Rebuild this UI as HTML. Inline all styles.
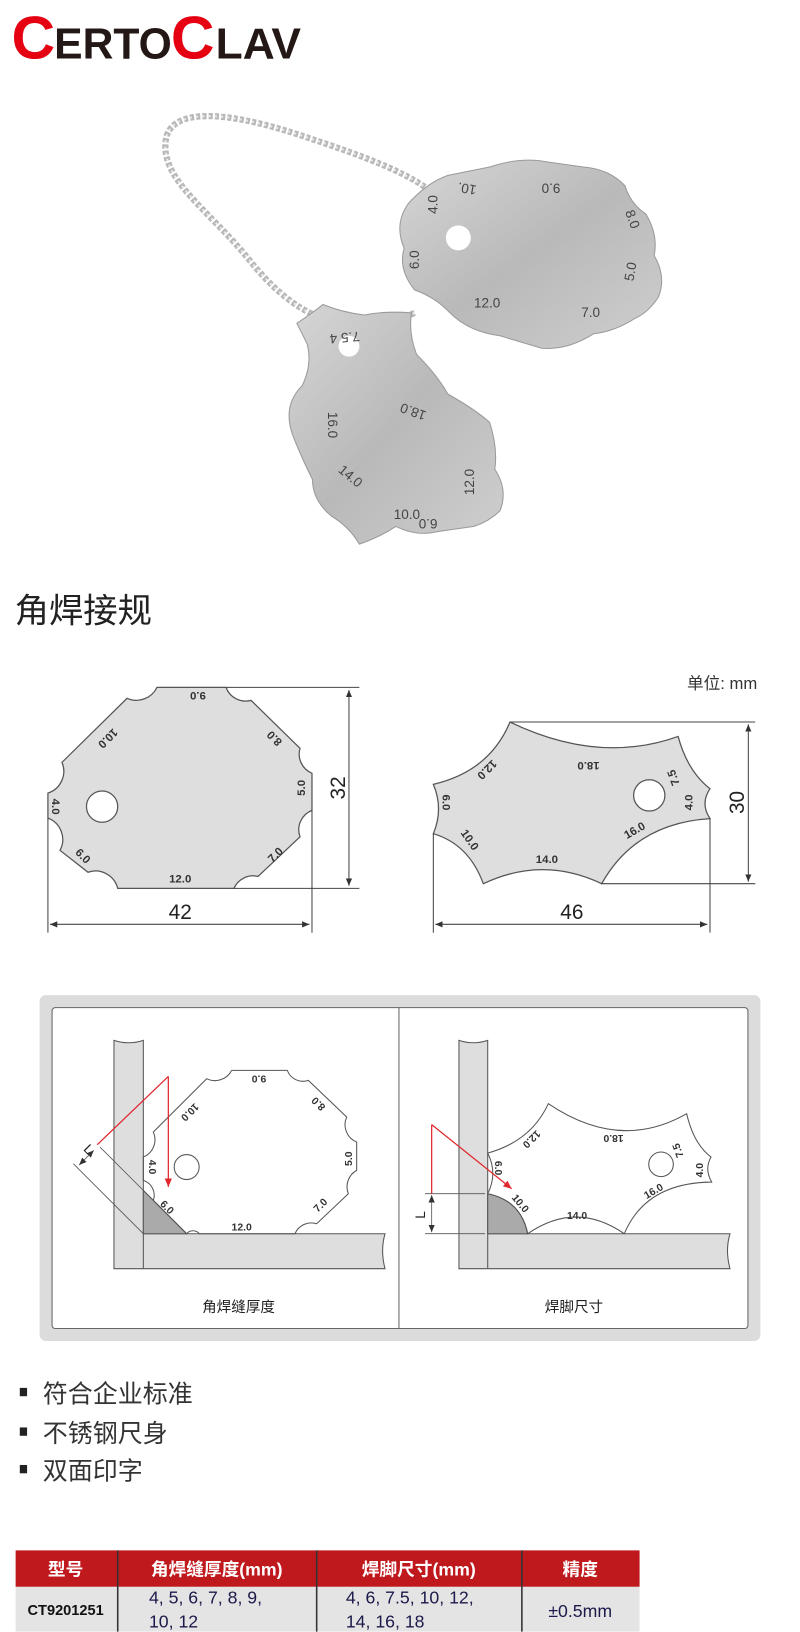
<!DOCTYPE html>
<html><head><meta charset="utf-8"><style>
html,body{margin:0;padding:0;background:#fff;}
svg{display:block;}
text{font-family:"Liberation Sans","Noto Sans CJK SC",sans-serif;}
</style></head><body>
<svg width="800" height="1632" viewBox="0 0 768 1566" xmlns="http://www.w3.org/2000/svg">
<defs>
<linearGradient id="met" x1="0" y1="0" x2="1" y2="1">
<stop offset="0" stop-color="#d6d6d6"/><stop offset="0.5" stop-color="#b9b9b9"/><stop offset="1" stop-color="#cfcfcf"/>
</linearGradient>
<marker id="ar" markerWidth="8" markerHeight="8" refX="7" refY="4" orient="auto" markerUnits="userSpaceOnUse"><path d="M0,1 L7,4 L0,7 Z" fill="#333"/></marker>
<marker id="arS" markerWidth="8" markerHeight="8" refX="1" refY="4" orient="auto" markerUnits="userSpaceOnUse"><path d="M8,1 L1,4 L8,7 Z" fill="#333"/></marker>
<marker id="arR" markerWidth="9" markerHeight="9" refX="8" refY="4.5" orient="auto" markerUnits="userSpaceOnUse"><path d="M0,1 L8,4.5 L0,8 Z" fill="#e0282e"/></marker>
</defs>

<!-- Logo -->
<text x="11" y="56" font-size="58" font-weight="bold" fill="#e50012">C</text>
<text x="52" y="56" font-size="42" font-weight="bold" fill="#231815" textLength="113" lengthAdjust="spacingAndGlyphs">ERTO</text>
<text x="164" y="56" font-size="58" font-weight="bold" fill="#e50012">C</text>
<text x="207" y="56" font-size="42" font-weight="bold" fill="#231815" textLength="82" lengthAdjust="spacingAndGlyphs">LAV</text>

<!-- Photo approximation -->
<path d="M398,300 C330,330 280,300 240,250 C200,200 150,170 160,130 C170,100 230,110 290,130 C350,150 410,170 430,200 L440,228" fill="none" stroke="#b8b8b8" stroke-width="6" stroke-dasharray="4 2"/>
<path d="M398,300 C330,330 280,300 240,250 C200,200 150,170 160,130 C170,100 230,110 290,130 C350,150 410,170 430,200 L440,228" fill="none" stroke="#e8e8e8" stroke-width="2" stroke-dasharray="2 4"/>
<path d="M392,195 Q410,175 430,168 L470,160 Q500,150 525,155 L560,160 Q585,162 600,178 Q605,195 620,205 Q632,225 628,245 Q640,265 632,285 Q622,300 610,305 Q590,318 570,320 Q545,336 520,334 L480,322 Q450,318 432,300 Q418,285 398,278 Q382,258 388,238 Q378,215 392,195 Z" fill="url(#met)" stroke="#9a9a9a"/>
<circle cx="440" cy="228" r="12" fill="#fff"/>
<path d="M285,310 Q300,300 310,292 Q330,300 350,302 Q370,298 395,300 Q392,320 400,340 Q420,360 430,378 Q455,392 470,405 Q478,430 475,450 Q488,470 480,490 Q470,500 455,505 L420,510 Q400,515 380,505 Q365,515 345,522 Q335,505 318,495 Q300,480 300,460 Q290,440 282,420 Q270,390 290,370 Q300,350 295,330 Z" fill="url(#met)" stroke="#9a9a9a"/>
<circle cx="335" cy="332" r="10" fill="#fff"/>
<g font-size="13" fill="#444">
<text transform="translate(538,176) rotate(180)">9.0</text>
<text transform="translate(600,203) rotate(70)">8.0</text>
<text transform="translate(608,270) rotate(-80)">5.0</text>
<text x="558" y="304">7.0</text>
<text x="455" y="295">12.0</text>
<text transform="translate(402,258) rotate(-90)">6.0</text>
<text transform="translate(420,205) rotate(-90)">4.0</text>
<text transform="translate(458,178) rotate(-170)">10.</text>
<text transform="translate(345,318) rotate(175)">7.5 4</text>
<text transform="translate(410,395) rotate(-160)">18.0</text>
<text transform="translate(315,395) rotate(90)">16.0</text>
<text transform="translate(324,452) rotate(40)">14.0</text>
<text x="378" y="498">10.0</text>
<text transform="translate(420,498) rotate(180)">6.0</text>
<text transform="translate(455,475) rotate(-90)">12.0</text>
</g>

<!-- Title -->
<text x="14" y="597" font-size="33" fill="#222">角焊接规</text>
<text x="727" y="661" font-size="16" fill="#333" text-anchor="end">单位: mm</text>

<!-- Left diagram -->
<g stroke="#555" stroke-width="1.2">
<path d="M150.7,659.5 L217,659.5 A20,20 0 0 0 241,672 L288,718 A20,20 0 0 0 299.5,742 L299.5,777.6 A20,20 0 0 0 288,803 L247.7,841 A20,20 0 0 0 224.6,852.5 L113,852.5 A22,22 0 0 0 84.5,837 L57.6,816 A22,22 0 0 0 46,785 L46,761 A22,22 0 0 0 59.5,731.5 L122,670 A22,22 0 0 0 150.7,659.5 Z" fill="#dedede"/>
<circle cx="98" cy="774" r="15" fill="#fff"/>
</g>
<g font-size="11" font-weight="bold" fill="#333" text-anchor="middle">
<text transform="translate(190,664) rotate(180)">9.0</text>
<text transform="translate(101,706) rotate(135)">10.0</text>
<text transform="translate(266,706) rotate(225)">8.0</text>
<text transform="translate(293,756) rotate(-90)">5.0</text>
<text transform="translate(50,774) rotate(90)">4.0</text>
<text transform="translate(77,824) rotate(45)">6.0</text>
<text transform="translate(267,823) rotate(-45)">7.0</text>
<text x="173" y="847">12.0</text>
</g>
<g stroke="#444" stroke-width="1" fill="none">
<line x1="217" y1="659.5" x2="345" y2="659.5"/>
<line x1="224" y1="852.5" x2="345" y2="852.5"/>
<line x1="335" y1="662" x2="335" y2="850" marker-start="url(#arS)" marker-end="url(#ar)"/>
<line x1="46" y1="785" x2="46" y2="895"/>
<line x1="299.5" y1="777" x2="299.5" y2="895"/>
<line x1="48" y1="887" x2="297" y2="887" marker-start="url(#arS)" marker-end="url(#ar)"/>
</g>
<text transform="translate(331,756) rotate(-90)" font-size="20" fill="#222" text-anchor="middle">32</text>
<text x="173" y="882" font-size="20" fill="#222" text-anchor="middle">42</text>

<!-- Right diagram -->
<path d="M489.6,692.8 Q575,733.9 651,706.6 Q660,740 681.6,756.8 Q672,771 681.6,785.5 Q610,790 577.6,848 Q521,821 464,848 Q450,810 416,800 Q426,776 416,752.6 Q470,740 489.6,692.8 Z" fill="#dedede" stroke="#555" stroke-width="1.2"/>
<circle cx="623.3" cy="763.2" r="15" fill="#fff" stroke="#555" stroke-width="1.2"/>
<g font-size="11" font-weight="bold" fill="#333" text-anchor="middle">
<text transform="translate(465,736) rotate(135)">12.0</text>
<text transform="translate(565,731) rotate(180)">18.0</text>
<text transform="translate(650,745) rotate(250)">7.5</text>
<text transform="translate(665,770) rotate(-90)">4.0</text>
<text transform="translate(425,770) rotate(90)">6.0</text>
<text transform="translate(448,808) rotate(55)">10.0</text>
<text x="525" y="828">14.0</text>
<text transform="translate(611,800) rotate(-30)">16.0</text>
</g>
<g stroke="#444" stroke-width="1" fill="none">
<line x1="489.6" y1="692.8" x2="725" y2="692.8"/>
<line x1="577" y1="848" x2="725" y2="848"/>
<line x1="718.4" y1="695" x2="718.4" y2="846" marker-start="url(#arS)" marker-end="url(#ar)"/>
<line x1="416" y1="800" x2="416" y2="895"/>
<line x1="681.6" y1="785.5" x2="681.6" y2="895"/>
<line x1="418" y1="887" x2="679" y2="887" marker-start="url(#arS)" marker-end="url(#ar)"/>
</g>
<text transform="translate(714,770) rotate(-90)" font-size="20" fill="#222" text-anchor="middle">30</text>
<text x="549" y="882" font-size="20" fill="#222" text-anchor="middle">46</text>

<!-- Usage box -->
<rect x="38" y="955" width="692" height="332" rx="6" fill="#dcdcdc"/>
<rect x="50" y="967" width="668" height="308" rx="3" fill="#fff" stroke="#666" stroke-width="1"/>
<line x1="383" y1="967" x2="383" y2="1275" stroke="#666" stroke-width="1"/>

<!-- left panel -->
<g stroke="#555" stroke-width="1">
<path d="M109.4,998.4 Q123.5,1003 137.6,998.4 L137.6,1184 L369.6,1184 Q365,1200 369.6,1217.6 L109.4,1217.6 Z" fill="#dedede"/>
<line x1="137.6" y1="1184" x2="137.6" y2="1217.6"/>
<path d="M137.6,1184 L137.6,1142.4 L179.2,1184 Z" fill="#aaa"/>
<path d="M222.4,1027.2 L275.8,1027.2 A16,16 0 0 0 296,1036.8 L332.8,1072 A18,18 0 0 0 342.4,1096 L342.4,1123.2 A18,18 0 0 0 334.4,1145.6 L304,1174.4 A17,17 0 0 0 283.2,1184 L191.4,1184 A8,8 0 0 0 179.2,1184 L147.2,1152 A15,15 0 0 0 137.6,1132.8 L137.6,1110.4 A18,18 0 0 0 147.2,1086.4 L198.4,1035.2 A18,18 0 0 0 222.4,1027.2" fill="none"/>
<circle cx="179.2" cy="1120" r="12" fill="none"/>
<line x1="96" y1="1100.8" x2="179.2" y2="1184" stroke-width="0.8"/>
<line x1="70.4" y1="1116.8" x2="137.6" y2="1184" stroke-width="0.8"/>
<line x1="90" y1="1104" x2="76" y2="1118" stroke-width="0.8" marker-start="url(#arS)" marker-end="url(#ar)"/>
</g>
<text transform="translate(82,1106) rotate(45)" font-size="13" fill="#222" text-anchor="middle">L</text>
<g font-size="10" font-weight="bold" fill="#333" text-anchor="middle">
<text transform="translate(248.6,1032) rotate(180)">9.0</text>
<text transform="translate(180,1065) rotate(135)">10.0</text>
<text transform="translate(308,1057) rotate(225)">8.0</text>
<text transform="translate(338,1112) rotate(-90)">5.0</text>
<text transform="translate(310,1159) rotate(-45)">7.0</text>
<text x="232" y="1181">12.0</text>
<text transform="translate(158,1161) rotate(45)">6.0</text>
<text transform="translate(143,1120) rotate(90)">4.0</text>
</g>
<g stroke="#e0282e" stroke-width="1.2" fill="none">
<line x1="161.6" y1="1033" x2="93.4" y2="1098.5"/>
<line x1="161.6" y1="1033" x2="161.6" y2="1139" marker-end="url(#arR)"/>
</g>
<text x="229" y="1259" font-size="14" fill="#222" text-anchor="middle">角焊缝厚度</text>

<!-- right panel -->
<g stroke="#555" stroke-width="1">
<path d="M440.6,998.4 Q454.4,1003 468.2,998.4 L468.2,1184 L700.8,1184 Q696,1200 700.8,1217.6 L440.6,1217.6 Z" fill="#dedede"/>
<line x1="468.2" y1="1184" x2="468.2" y2="1217.6"/>
<path d="M468.2,1184 L468.2,1145.6 Q500,1152 506.6,1184 Z" fill="#aaa"/>
<path d="M526.4,1059.2 Q595,1105.6 659.2,1068.8 Q666,1098 682.6,1110.4 Q676,1122 683.2,1134.4 Q620,1135 599.3,1184 Q553,1152 506.6,1184 Q500,1152 468.2,1145.6 Q478,1126 468.2,1106.6 Q510,1095 526.4,1059.2 Z" fill="none"/>
<circle cx="634.6" cy="1117.4" r="11.8" fill="none"/>
<line x1="408" y1="1145.6" x2="465.6" y2="1145.6" stroke-width="0.8"/>
<line x1="408" y1="1184" x2="465.6" y2="1184" stroke-width="0.8"/>
<line x1="414.4" y1="1147" x2="414.4" y2="1182.5" stroke-width="0.8" marker-start="url(#arS)" marker-end="url(#ar)"/>
</g>
<text transform="translate(408,1166) rotate(-90)" font-size="13" fill="#222" text-anchor="middle">L</text>
<g font-size="10" font-weight="bold" fill="#333" text-anchor="middle">
<text transform="translate(508,1091) rotate(135)">12.0</text>
<text transform="translate(589,1089) rotate(180)">18.0</text>
<text transform="translate(654,1103) rotate(250)">7.5</text>
<text transform="translate(675,1123) rotate(-90)">4.0</text>
<text transform="translate(475,1121) rotate(90)">6.0</text>
<text transform="translate(497,1157) rotate(50)">10.0</text>
<text x="554" y="1170">14.0</text>
<text transform="translate(629,1146) rotate(-30)">16.0</text>
</g>
<g stroke="#e0282e" stroke-width="1.2" fill="none">
<line x1="414.4" y1="1079.3" x2="414.4" y2="1145.6"/>
<line x1="414.4" y1="1079.3" x2="491.2" y2="1140.8" marker-end="url(#arR)"/>
</g>
<text x="551" y="1259" font-size="14" fill="#222" text-anchor="middle">焊脚尺寸</text>

<!-- Bullets -->
<g fill="#222">
<rect x="19" y="1332" width="7" height="8"/>
<rect x="19" y="1370" width="7" height="8"/>
<rect x="19" y="1406" width="7" height="8"/>
</g>
<g font-size="24" fill="#333">
<text x="41" y="1346">符合企业标准</text>
<text x="41" y="1384">不锈钢尺身</text>
<text x="41" y="1420">双面印字</text>
</g>

<!-- Table -->
<rect x="15" y="1488" width="599" height="35" fill="#c0191d"/>
<rect x="15" y="1523" width="599" height="43" fill="#e4e4e4"/>
<g stroke="#333" stroke-width="1.5">
<line x1="113" y1="1488" x2="113" y2="1566"/>
<line x1="304" y1="1488" x2="304" y2="1566"/>
<line x1="501" y1="1488" x2="501" y2="1566"/>
</g>
<g font-size="17" font-weight="bold" fill="#fff" text-anchor="middle">
<text x="63" y="1512">型号</text>
<text x="208" y="1512">角焊缝厚度(mm)</text>
<text x="402" y="1512">焊脚尺寸(mm)</text>
<text x="557" y="1512">精度</text>
</g>
<text x="63" y="1550" font-size="14" font-weight="bold" fill="#111" text-anchor="middle">CT9201251</text>
<g font-size="17" fill="#1c1a4a">
<text x="143" y="1539">4, 5, 6, 7, 8, 9,</text>
<text x="143" y="1562">10, 12</text>
<text x="332" y="1539">4, 6, 7.5, 10, 12,</text>
<text x="332" y="1562">14, 16, 18</text>
<text x="557" y="1552" text-anchor="middle">±0.5mm</text>
</g>
</svg>
</body></html>
